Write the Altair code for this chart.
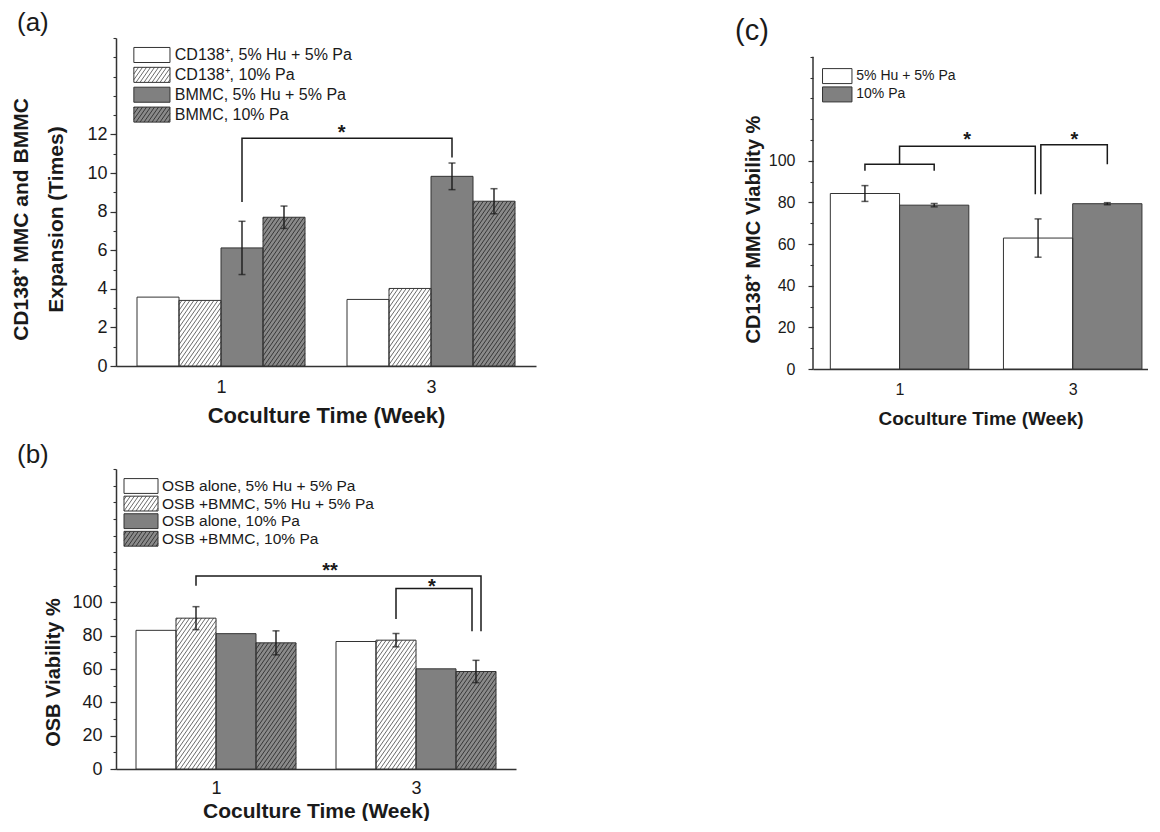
import math
import altair as alt
import pandas as pd

FONT = "Liberation Sans"
INK = "#1a1a1a"
AXC = "#333333"

# ---------------- data ----------------
weeks = [1, 3]

a_series = ["CD138⁺, 5% Hu + 5% Pa", "CD138⁺, 10% Pa", "BMMC, 5% Hu + 5% Pa", "BMMC, 10% Pa"]
a_week1 = [3.57, 3.40, 6.12, 7.71]
a_week3 = [3.45, 4.02, 9.83, 8.54]
a_err1 = [0, 0, 1.38, 0.58]
a_err3 = [0, 0, 0.69, 0.65]

b_series = ["OSB alone, 5% Hu + 5% Pa", "OSB +BMMC, 5% Hu + 5% Pa", "OSB alone, 10% Pa", "OSB +BMMC, 10% Pa"]
b_week1 = [83.2, 90.5, 81.2, 75.7]
b_week3 = [76.5, 77.3, 60.1, 58.5]
b_err1 = [0, 6.9, 0, 7.2]
b_err3 = [0, 4.0, 0, 6.7]

c_series = ["5% Hu + 5% Pa", "10% Pa"]
c_week1 = [84.3, 78.7]
c_week3 = [62.9, 79.4]
c_err1 = [3.8, 0.8]
c_err3 = [9.2, 0.5]

# significance brackets: points (week, bar slot, y)
a_brackets = [[(1, 2, 8.5), (1, 2, 11.8), (3, 2, 11.8), (3, 2, 10.8)]]
b_brackets = [
    [(1, 1, 110), (1, 1, 115.8), (3, 3.125, 115.8), (3, 3.125, 82.6)],
    [(3, 1, 90), (3, 1, 108.3), (3, 2.9, 108.3), (3, 2.9, 82.6)],
]
c_brackets = [
    [(1, 0, 95.2), (1, 0, 98.4), (1, 1, 98.4), (1, 1, 95.2)],
    [(1, 0.5, 98.4), (1, 0.5, 107.0), (3, -0.04, 107.0), (3, -0.04, 84.0)],
    [(3, 0.04, 84.0), (3, 0.04, 107.7), (3, 1, 107.7), (3, 1, 98.4)],
]
a_star_x, a_star_y, a_star_t = [2.15], [12.1], ["*"]
b_star_x, b_star_y, b_star_t = [2.14, 3.16], [118.8, 109.2], ["**", "*"]
c_star_x, c_star_y, c_star_t = [1.78, 3.02], [110.2, 110.2], ["*", "*"]


def hatch_lines(x0, x1, y0, y1, sx, sy, color, theta=55.0, hsp=4.0):
    """'///' hatch segments clipped to the box [x0,x1]x[y0,y1] (data units)."""
    X0, X1, Y0, Y1 = x0 * sx, x1 * sx, y0 * sy, y1 * sy
    t = math.tan(math.radians(theta))
    out = []
    c = math.ceil((X0 - (Y1 - Y0) / t) / hsp) * hsp
    while c < X1:
        ya = max(Y0, Y0 + (X0 - c) * t)
        yb = min(Y1, Y0 + (X1 - c) * t)
        if yb > ya + 0.3:
            xa = c + (ya - Y0) / t
            xb = c + (yb - Y0) / t
            out.append({"hx": xa / sx, "hx2": xb / sx, "hy": ya / sy, "hy2": yb / sy, "col": color})
        c += hsp
    return out


def make_panel(series, wk1, wk3, err1, err3, fills, hatches, brackets,
               star_x, star_y, star_t, W, H, xmax, ymax, axis_top, major_vals, minor_step,
               ytitle, cfg):
    n = len(series)
    bw = 1.6 / n
    rows = []
    for w, vals, errs in [(weeks[0], wk1, err1), (weeks[1], wk3, err3)]:
        for i, (s, v, e) in enumerate(zip(series, vals, errs)):
            rows.append({"week": w, "idx": i, "series": s, "value": v, "err": e})
    df = pd.DataFrame(rows)

    xs = alt.Scale(domain=[0, xmax], nice=False, zero=False)
    ys = alt.Scale(domain=[0, ymax], nice=False, zero=True)
    sx, sy = W / xmax, H / ymax
    own_domain = axis_top >= ymax
    fill_expr = "[" + ",".join(f"'{f}'" for f in fills) + "][datum.idx]"

    xaxis = alt.Axis(values=weeks, format="d", tickSize=0, grid=False,
                     labelFontSize=cfg["xlab"], labelPadding=cfg["xlabpad"],
                     labelColor=INK, title="Coculture Time (Week)",
                     titleFontSize=cfg["xtitle"], titleFontWeight="bold",
                     titleColor=INK, titlePadding=cfg["xtitlepad"],
                     domainColor=AXC, domainWidth=1.5, labelFont=FONT, titleFont=FONT)
    yaxis = alt.Axis(values=major_vals, format="d", tickSize=cfg["tick"], tickColor=AXC,
                     tickWidth=1.2, grid=False, labelFontSize=cfg["ylab"],
                     labelPadding=cfg["ylabpad"], labelColor=INK, title=ytitle,
                     titleFontSize=cfg["ytitle"], titleFontWeight="bold", titleColor=INK,
                     titlePadding=cfg["ytitlepad"], titleY=cfg["titleY"],
                     titleLineHeight=cfg.get("lh", 24), domain=own_domain,
                     domainColor=AXC, domainWidth=1.5,
                     labelFont=FONT, titleFont=FONT, orient="left")
    minor_axis = alt.Axis(values=list(range(0, axis_top + 1, minor_step)), labels=False,
                          tickSize=3, tickColor=AXC, tickWidth=1.1, domain=False,
                          grid=False, title=None, orient="left")

    base = alt.Chart(df).transform_calculate(
        x0=f"datum.week + (datum.idx - {n / 2}) * {bw}",
        x1=f"datum.week + (datum.idx - {n / 2} + 1) * {bw}",
        xc=f"datum.week + (datum.idx - {n / 2} + 0.5) * {bw}",
        lo="datum.value - datum.err",
        hi="datum.value + datum.err",
        fillc=fill_expr,
    )

    lg = cfg["legend"]
    leg = pd.DataFrame({"idx": list(range(n)), "label": series})
    legbase = alt.Chart(leg).transform_calculate(
        yc=f"{lg['ytop']} - datum.idx * {lg['step']}",
        ylo=f"{lg['ytop']} - datum.idx * {lg['step']} - {lg['half']}",
        yhi=f"{lg['ytop']} - datum.idx * {lg['step']} + {lg['half']}",
        lx0=f"{lg['x0']}", lx1=f"{lg['x1']}", tx=f"{lg['tx']}",
        fillc=fill_expr,
    )

    layers = []
    # bar fills
    layers.append(base.mark_bar(strokeWidth=0).encode(
        x=alt.X("x0:Q", scale=xs, axis=xaxis), x2="x1:Q",
        y=alt.Y("value:Q", scale=ys, axis=yaxis), y2=alt.Y2(datum=0),
        fill=alt.Fill("fillc:N", scale=None)))
    # legend swatch fills
    layers.append(legbase.mark_rect(strokeWidth=0).encode(
        x=alt.X("lx0:Q", scale=xs, axis=None), x2="lx1:Q",
        y=alt.Y("ylo:Q", scale=ys, axis=None), y2="yhi:Q",
        fill=alt.Fill("fillc:N", scale=None)))

    # hatching of the patterned series (bars + legend swatches)
    hrows = []
    for w, vals in [(weeks[0], wk1), (weeks[1], wk3)]:
        for i in range(n):
            if hatches[i]:
                bx0 = w + (i - n / 2) * bw
                hrows += hatch_lines(bx0, bx0 + bw, 0, vals[i], sx, sy, hatches[i])
    for i in range(n):
        if hatches[i]:
            yc = lg["ytop"] - i * lg["step"]
            hrows += hatch_lines(lg["x0"], lg["x1"], yc - lg["half"], yc + lg["half"],
                                 sx, sy, hatches[i])
    if hrows:
        layers.append(alt.Chart(pd.DataFrame(hrows)).mark_rule(strokeWidth=0.9).encode(
            x=alt.X("hx:Q", scale=xs, axis=None), x2="hx2:Q",
            y=alt.Y("hy:Q", scale=ys, axis=None), y2="hy2:Q",
            color=alt.Color("col:N", scale=None)))

    # bar and swatch outlines
    layers.append(base.mark_bar(fillOpacity=0, stroke=AXC, strokeWidth=1).encode(
        x=alt.X("x0:Q", scale=xs, axis=None), x2="x1:Q",
        y=alt.Y("value:Q", scale=ys, axis=None), y2=alt.Y2(datum=0)))
    layers.append(legbase.mark_rect(fillOpacity=0, stroke=AXC, strokeWidth=1).encode(
        x=alt.X("lx0:Q", scale=xs, axis=None), x2="lx1:Q",
        y=alt.Y("ylo:Q", scale=ys, axis=None), y2="yhi:Q"))
    layers.append(legbase.mark_text(align="left", baseline="middle", font=FONT,
                                    fontSize=lg["font"], color=INK)
                  .encode(x=alt.X("tx:Q", scale=xs, axis=None),
                          y=alt.Y("yc:Q", scale=ys, axis=None), text="label:N"))

    # manual y axis line when the plot area extends above the axis
    if not own_domain:
        ax = pd.DataFrame({"ax": [0], "ay": [0], "ay2": [axis_top]})
        layers.append(alt.Chart(ax).mark_rule(color=AXC, strokeWidth=1.5).encode(
            x=alt.X("ax:Q", scale=xs, axis=None),
            y=alt.Y("ay:Q", scale=ys, axis=None), y2="ay2:Q"))

    # error bars
    errb = base.transform_filter("datum.err > 0")
    layers.append(errb.mark_rule(color=INK, strokeWidth=1.4).encode(
        x=alt.X("xc:Q", scale=xs, axis=None),
        y=alt.Y("lo:Q", scale=ys, axis=minor_axis), y2="hi:Q"))
    for fld in ["lo", "hi"]:
        layers.append(errb.mark_tick(orient="horizontal", size=7, thickness=1.5, color=INK).encode(
            x=alt.X("xc:Q", scale=xs, axis=None),
            y=alt.Y(f"{fld}:Q", scale=ys, axis=None)))

    # brackets
    brows = []
    for bi, pts in enumerate(brackets):
        for pi, (wk, slot, yv) in enumerate(pts):
            brows.append({"bid": bi, "pid": pi, "week": wk, "slot": slot, "y": yv})
    bdf = pd.DataFrame(brows)
    layers.append(alt.Chart(bdf).transform_calculate(
        bx=f"datum.week + (datum.slot - {(n - 1) / 2}) * {bw}")
        .mark_line(color=INK, strokeWidth=1.5)
        .encode(x=alt.X("bx:Q", scale=xs, axis=None),
                y=alt.Y("y:Q", scale=ys, axis=None),
                detail="bid:N", order="pid:Q"))
    sdf = pd.DataFrame({"x": star_x, "y": star_y, "t": star_t})
    layers.append(alt.Chart(sdf).mark_text(font=FONT, fontSize=cfg["star"], fontWeight="bold",
                                           baseline="middle", color=INK)
                  .encode(x=alt.X("x:Q", scale=xs, axis=None),
                          y=alt.Y("y:Q", scale=ys, axis=None), text="t:N"))

    return alt.layer(*layers).resolve_axis(x="independent", y="independent").properties(
        width=W, height=H,
        title=alt.TitleParams(cfg["label"], anchor="start", frame="group", dx=cfg["tdx"],
                              fontSize=cfg["tfont"], fontWeight="normal", offset=cfg["toff"],
                              color=INK, font=FONT))


WHITE, GRAY, DGRAY = "#ffffff", "#808080", "#8a8a8a"
HLIGHT, HDARK = "#5a5a5a", "#2e2e2e"

panel_a = make_panel(
    a_series, a_week1, a_week3, a_err1, a_err3,
    [WHITE, WHITE, GRAY, DGRAY], [None, HLIGHT, None, HDARK],
    a_brackets, a_star_x, a_star_y, a_star_t,
    W=420, H=328, xmax=4, ymax=17, axis_top=17, major_vals=list(range(0, 13, 2)), minor_step=1,
    ytitle=["CD138⁺ MMC and BMMC", "Expansion (Times)"],
    cfg=dict(xlab=18, xlabpad=12, xtitle=22, xtitlepad=9, tick=6, ylab=18, ylabpad=3,
             ytitle=21, ytitlepad=20, titleY=181, lh=35, star=20,
             label="(a)", tdx=-99, tfont=26, toff=1,
             legend=dict(ytop=16.12, step=1.03, half=0.39, x0=0.17, x1=0.514, tx=0.56, font=16)),
)

panel_c = make_panel(
    c_series, c_week1, c_week3, c_err1, c_err3,
    [WHITE, GRAY], [None, None],
    c_brackets, c_star_x, c_star_y, c_star_t,
    W=335, H=331, xmax=3.87, ymax=159, axis_top=150, major_vals=list(range(0, 101, 20)),
    minor_step=10, ytitle="CD138⁺ MMC Viability %",
    cfg=dict(xlab=16, xlabpad=12, xtitle=19, xtitlepad=12, tick=5, ylab=16, ylabpad=13,
             ytitle=20, ytitlepad=5, titleY=191, star=20,
             label="(c)", tdx=-78, tfont=29, toff=-8,
             legend=dict(ytop=140.7, step=8.8, half=3.6, x0=0.11, x1=0.45, tx=0.5, font=14)),
)

panel_b = make_panel(
    b_series, b_week1, b_week3, b_err1, b_err3,
    [WHITE, WHITE, GRAY, DGRAY], [None, HLIGHT, None, HDARK],
    b_brackets, b_star_x, b_star_y, b_star_t,
    W=400, H=300, xmax=4, ymax=180, axis_top=180, major_vals=list(range(0, 101, 20)),
    minor_step=10, ytitle="OSB Viability %",
    cfg=dict(xlab=18, xlabpad=10, xtitle=21, xtitlepad=3, tick=6, ylab=18, ylabpad=8,
             ytitle=20, ytitlepad=8, titleY=203, star=20,
             label="(b)", tdx=-99, tfont=26, toff=0,
             legend=dict(ytop=169.8, step=10.55, half=4.45, x0=0.08, x1=0.42, tx=0.46, font=15.5)),
)

chart = alt.vconcat(
    alt.hconcat(panel_a, panel_c, spacing=199),
    panel_b,
    spacing=14,
).properties(
    padding={"left": 2, "top": 2, "right": 0, "bottom": 0},
).configure(font=FONT).configure_view(stroke=None)

chart.save("out.html", embed_options={"renderer": "svg", "actions": False})
